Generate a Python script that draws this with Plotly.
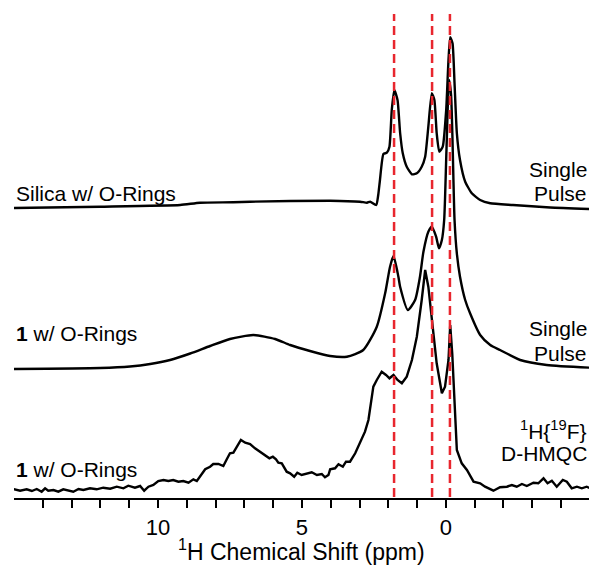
import plotly.graph_objects as go

# ---------------- data (ppm, intensity above own baseline) ----------------
silica_ppm = [15.0, 12.01, 9.23, 8.54, 7.39, 6.80, 4.02, 2.98, 2.74, 2.63, 2.42, 2.35, 2.29, 2.17, 2.05,
              1.96, 1.88, 1.79, 1.68, 1.59, 1.50, 1.36, 1.18, 1.01, 0.84, 0.72, 0.61, 0.49, 0.40,
              0.32, 0.23, 0.11, -0.01, -0.09, -0.15, -0.23, -0.30, -0.38, -0.49, -0.67, -0.90,
              -1.19, -1.54, -2.33, -3.62, -5.0]
silica_int = [0, 1.3, 3, 5.3, 5.7, 6.3, 7.3, 6.3, 5.3, 6.3, 3, 13, 28, 54, 55.3,
              61.3, 98, 118, 108, 75, 55, 41.3, 33.7, 34.7, 41.3, 51.3, 81.3, 114.7, 108,
              75, 56.3, 61.3, 98, 148, 170.7, 164.7, 124.7, 75, 48, 26.3, 14.7,
              8, 4.7, 3, 0.5, -1]

sp_ppm = [15.02, 12.01, 10.97, 10.27, 9.58, 8.88, 8.19, 7.50, 6.69, 5.93, 5.41, 4.72, 4.02, 3.44,
          2.87, 2.40, 2.11, 1.94, 1.82, 1.65, 1.59, 1.32, 1.07, 0.90, 0.78, 0.61, 0.49, 0.34, 0.24,
          0.14, 0.06, -0.02, -0.11, -0.18, -0.30, -0.38, -0.49, -0.67, -0.84, -1.19, -1.54, -1.88,
          -2.58, -3.50, -5.0]
sp_int = [0, 1, 2.5, 5, 9, 15.5, 23, 30, 34, 30, 24, 18, 13, 12.3,
          19, 42.3, 75.7, 102.3, 113, 92.3, 82.3, 59, 69, 92.3, 117.3, 137.3, 142.3, 132.3, 120.7,
          129, 149, 219, 289, 274, 149, 115.7, 92.3, 69, 55.7, 34, 24, 19,
          9, 4, 1.3]

hmqc_ppm = [15.02, 14.79, 14.56, 14.38, 14.21, 14.04, 13.92, 13.81, 13.63, 13.46, 13.29, 13.11,
            12.94, 12.76, 12.59, 12.36, 12.13, 11.90, 11.66, 11.43, 11.20, 11.03, 10.80, 10.62,
            10.48, 10.33, 10.16, 9.99, 9.81, 9.64, 9.47, 9.29, 9.12, 8.94, 8.77, 8.65, 8.54,
            8.36, 8.19, 8.08, 7.90, 7.73, 7.61, 7.50, 7.38, 7.26, 7.12, 6.97, 6.80, 6.63, 6.45,
            6.28, 6.13, 6.01, 5.90, 5.82, 5.70, 5.53, 5.41, 5.27, 5.16, 5.01, 4.83, 4.66, 4.48,
            4.31, 4.20, 4.08, 4.02, 3.85, 3.73, 3.58, 3.47, 3.33, 3.15, 2.98, 2.81, 2.69, 2.52,
            2.40, 2.23, 2.08, 1.96, 1.82, 1.68, 1.53, 1.36, 1.18, 1.01, 0.84, 0.72, 0.61, 0.49,
            0.32, 0.14, 0.03, -0.09, -0.15, -0.22, -0.30, -0.38, -0.55, -0.73, -0.96, -1.19,
            -1.36, -1.65, -1.88, -2.12, -2.29, -2.46, -2.64, -2.81, -3.04, -3.21, -3.39, -3.53,
            -3.68, -3.85, -4.06, -4.20, -4.37, -4.55, -4.72, -4.89, -5.01]
hmqc_int = [1, -0.7, 0.7, -1, 1, -1.7, 1.7, -0.7, 0, -1.7, 0.7, -0.7,
            -1.7, 1, 0, 1.7, 0.7, 2.3, 1.3, 3.3, 1.7, 4.3, 2.3, 4,
            -0.7, 3.3, 5, 9, 10, 9, 10, 8.3, 9, 7.3, 10.7, 9, 13.3,
            20.7, 23.3, 26, 26, 24, 30.7, 36.7, 37.3, 43.3, 50, 47.3, 46, 41.7, 38.3,
            35, 31.7, 33.3, 30.7, 27.3, 26.7, 18.3, 16.7, 13.3, 17.3, 15, 16, 17.7, 15,
            16, 12.7, 15, 20.7, 21.7, 25.7, 23.3, 28.3, 28.3, 36.7, 46.7, 58.3, 70, 103.3,
            110, 118.3, 115, 111.7, 115, 110, 106.7, 113.3, 130, 153.3, 190, 220, 203.3, 170,
            126.7, 96.7, 103.3, 130, 165, 136.7, 83.3, 40, 26.7, 20, 8.3, 6.7,
            3.3, -0.7, 2.7, 3.3, 5, 3.3, 6, 4, 7.3, 6.7, 11.7, 6.7,
            9.3, 3.3, 10, 8.3, 1.7, 3.3, 1.7, 3.3, 1.7]

offsets = [290, 129, 8]          # vertical stacking of the three spectra
ref_lines_ppm = [1.80, 0.48, -0.14]

left_labels = ["Silica w/ O-Rings", "<b>1</b> w/ O-Rings", "<b>1</b> w/ O-Rings"]
right_labels = [["Single", "Pulse"], ["Single", "Pulse"],
                ["<sup>1</sup>H{<sup>19</sup>F}", "D-HMQC"]]
tick_vals = list(range(-4, 15))
tick_text = [str(v) if v in (0, 5, 10) else "" for v in tick_vals]
x_title = "<sup>1</sup>H Chemical Shift (ppm)"

FONT = "Liberation Sans, Arial, sans-serif"

fig = go.Figure()
traces = [(silica_ppm, silica_int, "spline", 0.5), (sp_ppm, sp_int, "spline", 0.6),
          (hmqc_ppm, hmqc_int, "linear", 0)]
for (px, py, shp, sm), off in zip(traces, offsets):
    line = dict(color="black", width=2.4, shape=shp)
    if shp == "spline":
        line["smoothing"] = sm
    fig.add_trace(go.Scatter(x=px, y=[v + off for v in py], mode="lines", line=line,
                             showlegend=False, hoverinfo="skip"))

for p in ref_lines_ppm:
    fig.add_shape(type="line", xref="x", yref="y", x0=p, x1=p, y0=1, y1=484,
                  line=dict(color="#e8262e", width=2.5, dash="9px,5px"), layer="above")

annotations = []
left_y = [305, 165, 29]
for txt, yy in zip(left_labels, left_y):
    annotations.append(dict(x=15.0, y=yy, xref="x", yref="y", text=txt, showarrow=False,
                            xanchor="left", yanchor="middle",
                            font=dict(size=21, color="black", family=FONT)))
right_y = [(329, 305), (170, 145), (68, 45)]
for lines, ys in zip(right_labels, right_y):
    for txt, yy in zip(lines, ys):
        annotations.append(dict(x=-4.97, y=yy, xref="x", yref="y", text=txt, showarrow=False,
                                xanchor="right", yanchor="middle",
                                font=dict(size=21, color="black", family=FONT)))
annotations.append(dict(x=0.5, y=-(550 - 498) / 498, xref="paper", yref="paper", text=x_title,
                        showarrow=False, xanchor="center", yanchor="middle",
                        font=dict(size=23, color="black", family=FONT)))

fig.update_layout(
    width=594, height=565,
    margin=dict(l=14, r=5, t=0, b=67),
    paper_bgcolor="white", plot_bgcolor="white",
    annotations=annotations,
    xaxis=dict(range=[15.0, -4.97], showgrid=False, zeroline=False, showline=True,
               linecolor="black", linewidth=2, ticks="outside", ticklen=8, tickwidth=2,
               tickcolor="black", tickvals=tick_vals, ticktext=tick_text,
               ticklabelstandoff=1,
               tickfont=dict(size=22, color="black", family=FONT)),
    yaxis=dict(range=[0, 498], visible=False, showgrid=False, zeroline=False),
)

fig.write_html("out.html")
